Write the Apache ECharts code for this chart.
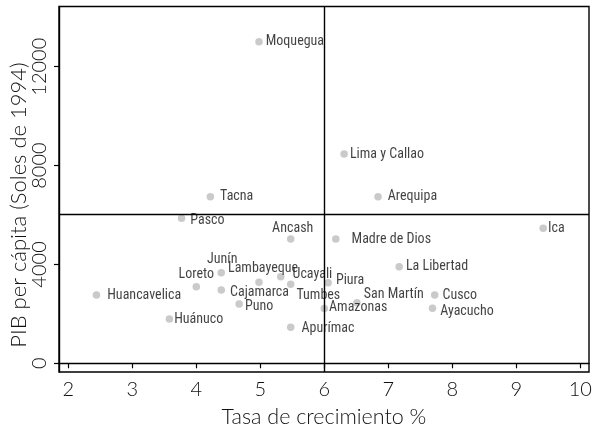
<!DOCTYPE html>
<html>
<head>
<meta charset="utf-8">
<script src="https://cdn.jsdelivr.net/npm/echarts@6/dist/echarts.min.js"></script>
<style>
html,body{margin:0;padding:0;background:#fff;}
#chart{width:596px;height:427px;}
</style>
</head>
<body>
<div id="chart"></div>
<script>
// ---- data ----
var regions = ["Moquegua","Lima y Callao","Tacna","Arequipa","Pasco","Ancash","Madre de Dios","Ica",
  "La Libertad","Cusco","Ayacucho","San Martín","Piura","Amazonas","Tumbes","Ucayali",
  "Lambayeque","Junín","Loreto","Cajamarca","Puno","Huánuco","Huancavelica","Apurímac"];
var growth = [4.98,6.31,4.22,6.84,3.77,5.475,6.18,9.42,
  7.17,7.725,7.69,6.51,6.06,6.0,5.475,5.32,
  4.98,4.39,4.0,4.39,4.67,3.58,2.44,5.475];
var gdpPc = [13010,8468,6740,6740,5866,5029,5029,5462,
  3908,2763,2225,2452,3261,2217,3196,3504,
  3277,3666,3099,2966,2399,1792,2763,1456];
var xTicks = [2,3,4,5,6,7,8,9,10];
var yTicks = [0,4000,8000,12000];
var refGrowth = 6;
var refGdp = 6040;
var xTitle = 'Tasa de crecimiento %';
var yTitle = 'PIB per cápita (Soles de 1994)';

// ---- label placement (style) ----
var labelStyle = {
  "Moquegua":{position:"right",distance:3},
  "Lima y Callao":{position:"right",distance:2},
  "Tacna":{position:"right",distance:6},
  "Arequipa":{position:"right",distance:6},
  "Pasco":{position:"right",distance:5,offset:[0,2]},
  "Ancash":{position:"top",distance:0,offset:[2,0]},
  "Madre de Dios":{position:"right",distance:12},
  "Ica":{position:"right",distance:1},
  "La Libertad":{position:"right",distance:3},
  "Cusco":{position:"right",distance:4},
  "Ayacucho":{position:"right",distance:4,offset:[0,3]},
  "San Martín":{position:"right",distance:3,offset:[0,-8]},
  "Piura":{position:"right",distance:4,offset:[0,-2]},
  "Amazonas":{position:"right",distance:1,offset:[0,-1]},
  "Tumbes":{position:"right",distance:2,offset:[0,11]},
  "Ucayali":{position:"right",distance:8,offset:[0,-2]},
  "Lambayeque":{position:"top",distance:0,offset:[4,-3.5]},
  "Junín":{position:"top",distance:0,offset:[1,-2]},
  "Loreto":{position:"top",distance:0,offset:[0,-1]},
  "Cajamarca":{position:"right",distance:5,offset:[0,2.7]},
  "Puno":{position:"right",distance:2,offset:[0,2.7]},
  "Huánuco":{position:"right",distance:1},
  "Huancavelica":{position:"right",distance:7},
  "Apurímac":{position:"right",distance:7,offset:[0,1]}
};

var points = regions.map(function(n,i){
  var ls = labelStyle[n] || {};
  return {
    name:n,
    value:[growth[i],gdpPc[i]],
    label:{position:ls.position||"right",distance:ls.distance!=null?ls.distance:4,offset:ls.offset||[0,0]}
  };
});

var chart = echarts.init(document.getElementById('chart'),null,{renderer:'canvas'});
var labelFont = '"Roboto Condensed", "DejaVu Sans Condensed", sans-serif';
var axisFont = 'Lato, "Open Sans", sans-serif';
chart.setOption({
  animation:false,
  backgroundColor:'#fff',
  grid:{left:59,right:7,top:6.5,bottom:55,containLabel:false,outerBoundsMode:'none',
    show:true,borderColor:'#000',borderWidth:1.4,backgroundColor:'transparent'},
  graphic:[{
    type:'text',x:19,y:205,rotation:Math.PI/2,silent:true,
    style:{text:yTitle,fontFamily:axisFont,fontSize:22,fontWeight:300,fill:'#111',align:'center',verticalAlign:'middle'}
  }],
  xAxis:{
    type:'value',min:1.855,max:10.136,
    name:xTitle,nameLocation:'middle',nameGap:34,
    nameTextStyle:{fontFamily:axisFont,fontSize:21.5,fontWeight:300,color:'#111'},
    axisLine:{show:true,lineStyle:{color:'#000',width:1.4}},
    axisTick:{show:true,length:5,lineStyle:{color:'#000',width:1.2},customValues:xTicks},
    axisLabel:{fontFamily:axisFont,fontSize:20,fontWeight:300,color:'#111',margin:8,customValues:xTicks,showMinLabel:true,showMaxLabel:true},
    splitLine:{show:false}
  },
  yAxis:{
    type:'value',min:-352,max:14436,
    axisLine:{show:true,lineStyle:{color:'#000',width:1.4}},
    axisTick:{show:true,length:5,lineStyle:{color:'#000',width:1.2},customValues:yTicks},
    axisLabel:{fontFamily:axisFont,fontSize:20,fontWeight:300,color:'#111',rotate:90,margin:9,customValues:yTicks,
      formatter:function(v){return String(v);}},
    splitLine:{show:false}
  },
  series:[{
    type:'scatter',
    symbolSize:7.5,
    itemStyle:{color:'#bdbdbd'},
    label:{show:true,formatter:'{b}',fontFamily:labelFont,fontSize:14,color:'#111'},
    emphasis:{disabled:true},
    data:points,
    markLine:{
      silent:true,symbol:'none',
      lineStyle:{color:'#000',width:1.4,type:'solid'},
      label:{show:false},
      data:[{xAxis:refGrowth},{yAxis:refGdp}]
    }
  }]
});
</script>
</body>
</html>
